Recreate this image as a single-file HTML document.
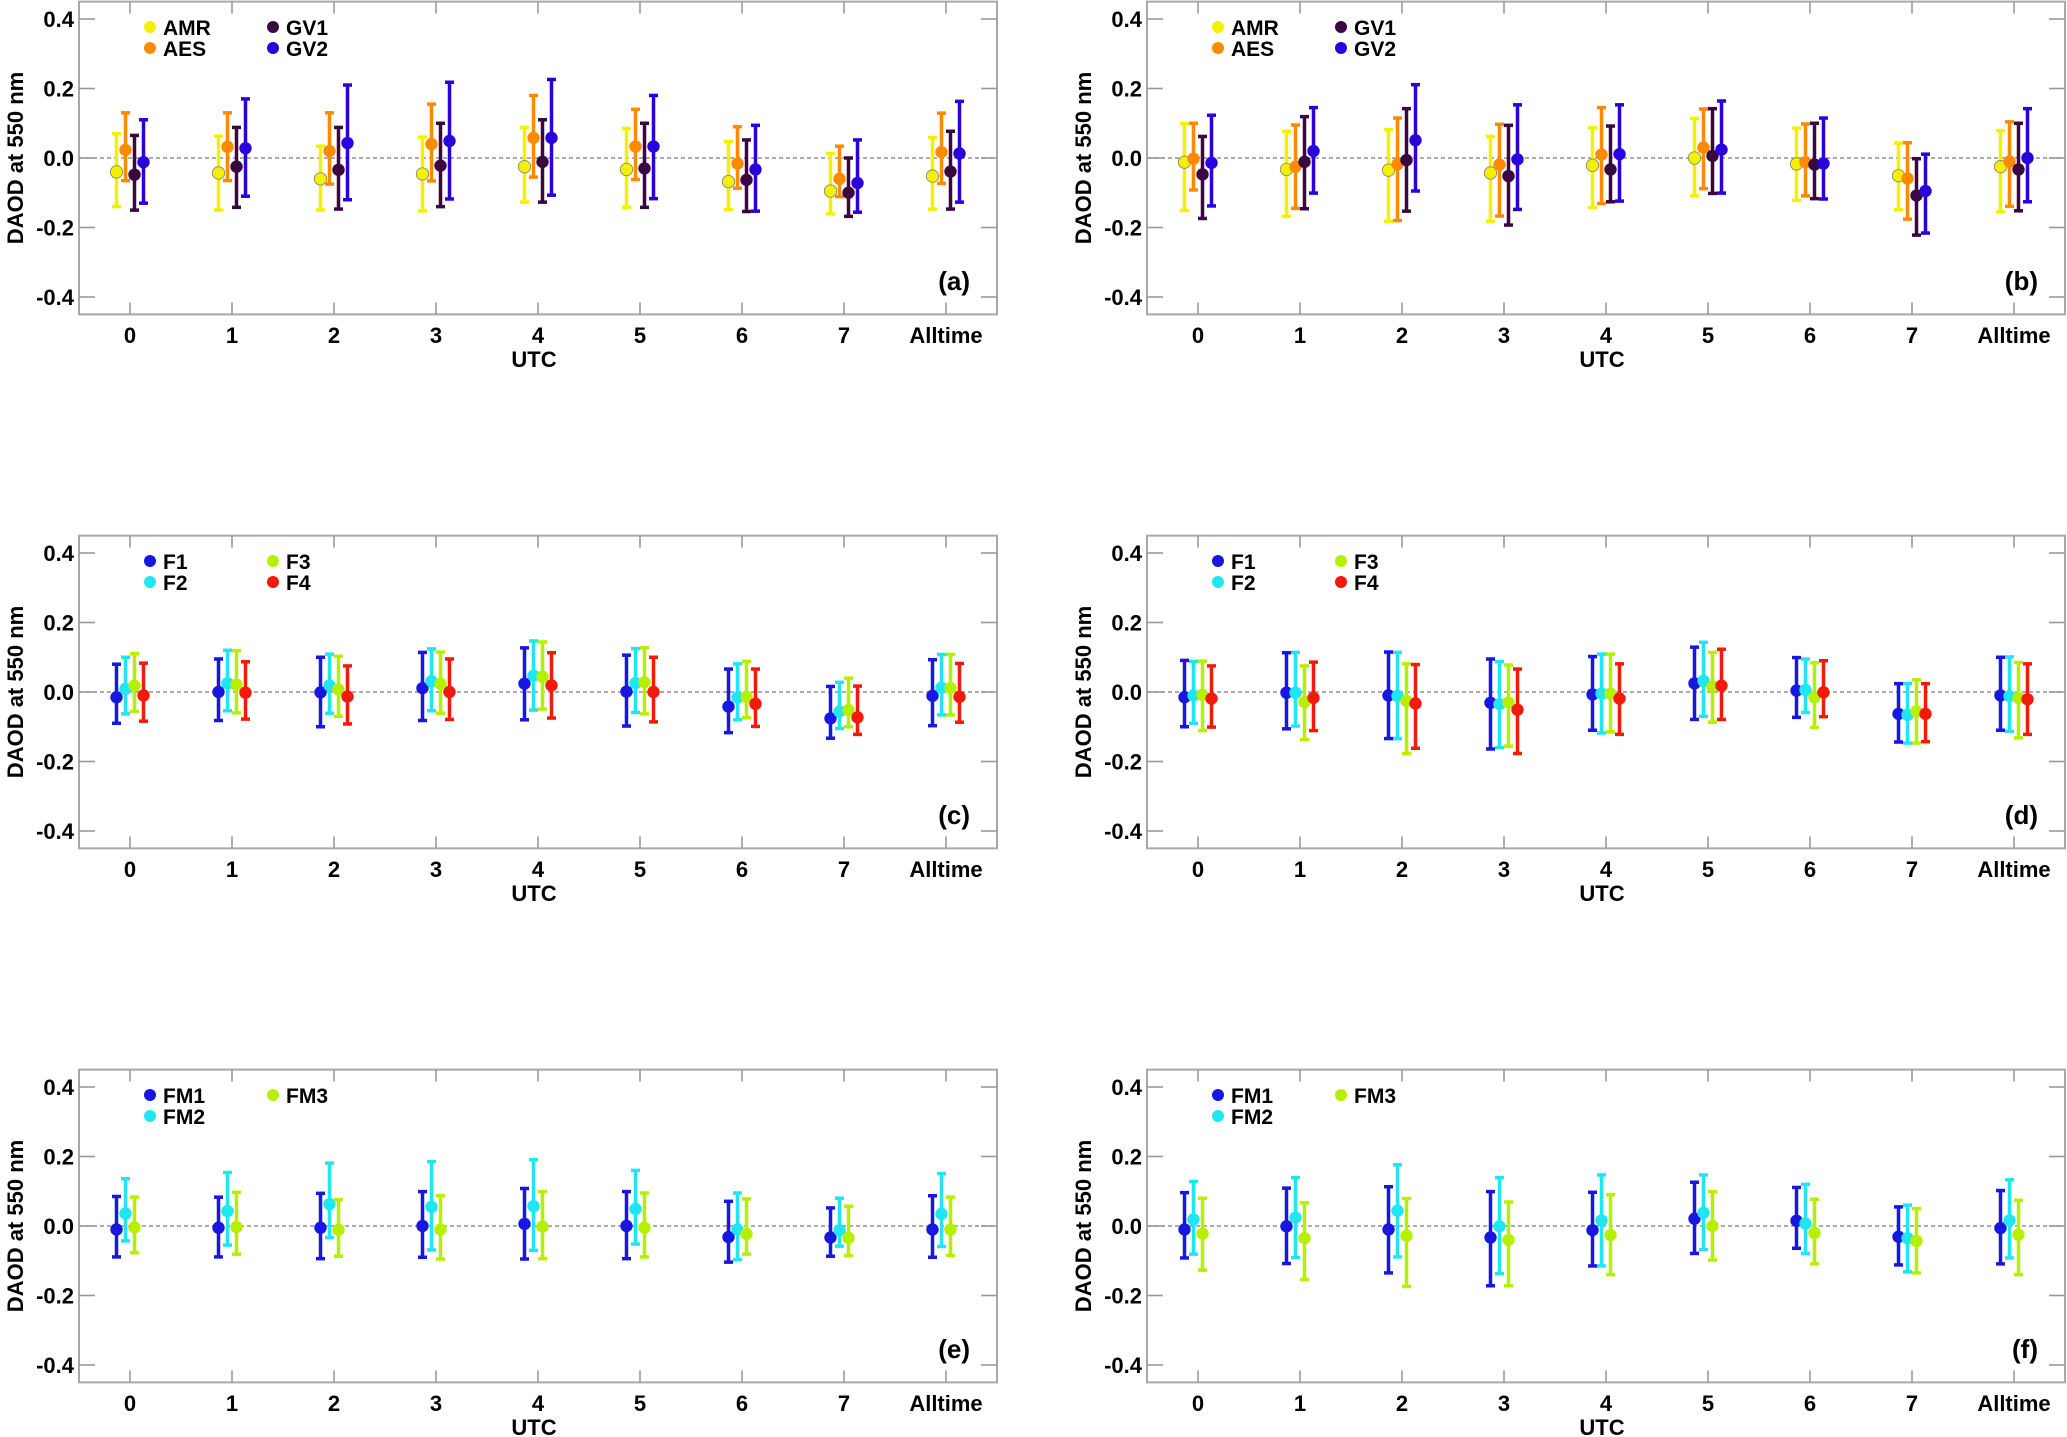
<!DOCTYPE html>
<html><head><meta charset="utf-8"><style>
html,body{margin:0;padding:0;background:#fff;}
svg{display:block;font-family:"Liberation Sans",Arial,sans-serif;font-weight:bold;}
</style></head><body>
<svg id="chart" width="2067" height="1437" viewBox="0 0 2067 1437" xmlns="http://www.w3.org/2000/svg"></svg>
<script>
const CATEGORIES = ["0","1","2","3","4","5","6","7","Alltime"];
const Y_TICKS = [-0.4,-0.2,0.0,0.2,0.4];
const Y_TICK_LABELS = ["-0.4","-0.2","0.0","0.2","0.4"];

// Panel (a)
const A_AMR_MEAN=[-0.04,-0.043,-0.06,-0.046,-0.025,-0.033,-0.068,-0.095,-0.052];
const A_AMR_HI=[0.07,0.063,0.034,0.06,0.088,0.085,0.047,0.013,0.059];
const A_AMR_LO=[-0.14,-0.15,-0.15,-0.152,-0.127,-0.142,-0.148,-0.161,-0.147];
const A_AES_MEAN=[0.023,0.032,0.02,0.04,0.058,0.033,-0.016,-0.06,0.017];
const A_AES_HI=[0.13,0.13,0.13,0.155,0.18,0.14,0.09,0.034,0.129];
const A_AES_LO=[-0.065,-0.065,-0.075,-0.066,-0.055,-0.062,-0.087,-0.111,-0.073];
const A_GV1_MEAN=[-0.048,-0.025,-0.034,-0.022,-0.011,-0.03,-0.063,-0.1,-0.039];
const A_GV1_HI=[0.065,0.088,0.088,0.1,0.11,0.1,0.052,0.0,0.077];
const A_GV1_LO=[-0.15,-0.142,-0.147,-0.14,-0.127,-0.142,-0.154,-0.168,-0.147];
const A_GV2_MEAN=[-0.012,0.028,0.043,0.049,0.058,0.033,-0.033,-0.072,0.013];
const A_GV2_HI=[0.11,0.17,0.21,0.218,0.226,0.18,0.094,0.052,0.163];
const A_GV2_LO=[-0.13,-0.11,-0.12,-0.118,-0.107,-0.117,-0.153,-0.156,-0.127];

// Panel (b)
const B_AMR_MEAN=[-0.012,-0.033,-0.035,-0.043,-0.021,0.0,-0.017,-0.051,-0.025];
const B_AMR_HI=[0.099,0.077,0.082,0.062,0.087,0.114,0.086,0.043,0.079];
const B_AMR_LO=[-0.151,-0.168,-0.182,-0.182,-0.143,-0.109,-0.122,-0.149,-0.155];
const B_AES_MEAN=[-0.002,-0.025,-0.018,-0.019,0.01,0.03,-0.012,-0.059,-0.01];
const B_AES_HI=[0.1,0.095,0.115,0.097,0.145,0.141,0.098,0.044,0.104];
const B_AES_LO=[-0.092,-0.145,-0.18,-0.167,-0.131,-0.088,-0.109,-0.176,-0.139];
const B_GV1_MEAN=[-0.047,-0.011,-0.006,-0.052,-0.033,0.006,-0.019,-0.108,-0.033];
const B_GV1_HI=[0.062,0.119,0.142,0.094,0.092,0.142,0.1,-0.002,0.1];
const B_GV1_LO=[-0.174,-0.146,-0.153,-0.193,-0.126,-0.102,-0.117,-0.222,-0.152];
const B_GV2_MEAN=[-0.014,0.02,0.051,-0.004,0.011,0.024,-0.016,-0.095,0.0];
const B_GV2_HI=[0.123,0.145,0.211,0.153,0.153,0.164,0.115,0.011,0.142];
const B_GV2_LO=[-0.138,-0.101,-0.095,-0.148,-0.124,-0.101,-0.118,-0.216,-0.126];

// Panel (c)
const C_F1_MEAN=[-0.015,0.0,-0.001,0.011,0.024,0.001,-0.042,-0.076,-0.011];
const C_F1_HI=[0.08,0.095,0.1,0.114,0.127,0.106,0.066,0.016,0.093];
const C_F1_LO=[-0.09,-0.082,-0.1,-0.082,-0.08,-0.098,-0.117,-0.133,-0.097];
const C_F2_MEAN=[0.009,0.025,0.019,0.031,0.047,0.026,-0.016,-0.056,0.012];
const C_F2_HI=[0.1,0.12,0.109,0.124,0.147,0.125,0.081,0.028,0.108];
const C_F2_LO=[-0.063,-0.054,-0.061,-0.054,-0.052,-0.059,-0.08,-0.105,-0.066];
const C_F3_MEAN=[0.018,0.021,0.007,0.023,0.044,0.028,-0.014,-0.052,0.011];
const C_F3_HI=[0.11,0.119,0.103,0.115,0.144,0.127,0.088,0.04,0.108];
const C_F3_LO=[-0.056,-0.06,-0.07,-0.061,-0.049,-0.063,-0.074,-0.1,-0.066];
const C_F4_MEAN=[-0.01,-0.002,-0.013,0.0,0.019,0.0,-0.034,-0.073,-0.014];
const C_F4_HI=[0.083,0.087,0.075,0.095,0.113,0.1,0.066,0.017,0.082];
const C_F4_LO=[-0.084,-0.078,-0.092,-0.079,-0.075,-0.086,-0.099,-0.122,-0.087];

// Panel (d)
const D_F1_MEAN=[-0.015,-0.002,-0.01,-0.031,-0.007,0.025,0.004,-0.063,-0.01];
const D_F1_HI=[0.091,0.113,0.115,0.095,0.102,0.129,0.099,0.024,0.1];
const D_F1_LO=[-0.1,-0.106,-0.134,-0.164,-0.11,-0.079,-0.073,-0.144,-0.11];
const D_F2_MEAN=[-0.01,-0.002,-0.011,-0.035,-0.005,0.032,0.006,-0.066,-0.012];
const D_F2_HI=[0.088,0.114,0.114,0.087,0.109,0.143,0.095,0.024,0.101];
const D_F2_LO=[-0.09,-0.098,-0.134,-0.16,-0.118,-0.07,-0.059,-0.147,-0.113];
const D_F3_MEAN=[-0.008,-0.029,-0.026,-0.03,-0.005,0.016,-0.015,-0.056,-0.017];
const D_F3_HI=[0.089,0.075,0.081,0.078,0.109,0.114,0.084,0.035,0.085];
const D_F3_LO=[-0.111,-0.137,-0.177,-0.156,-0.115,-0.087,-0.102,-0.147,-0.132];
const D_F4_MEAN=[-0.019,-0.017,-0.033,-0.051,-0.019,0.018,-0.001,-0.063,-0.021];
const D_F4_HI=[0.075,0.086,0.079,0.066,0.081,0.123,0.09,0.024,0.081];
const D_F4_LO=[-0.101,-0.111,-0.162,-0.177,-0.122,-0.079,-0.071,-0.143,-0.122];

// Panel (e)
const E_FM1_MEAN=[-0.01,-0.005,-0.005,0.0,0.006,0.0,-0.032,-0.033,-0.01];
const E_FM1_HI=[0.085,0.083,0.094,0.099,0.108,0.099,0.071,0.052,0.087];
const E_FM1_LO=[-0.089,-0.089,-0.094,-0.09,-0.095,-0.094,-0.104,-0.087,-0.09];
const E_FM2_MEAN=[0.036,0.043,0.063,0.055,0.057,0.049,-0.01,-0.012,0.035];
const E_FM2_HI=[0.136,0.154,0.181,0.185,0.191,0.16,0.095,0.08,0.151];
const E_FM2_LO=[-0.043,-0.055,-0.033,-0.069,-0.07,-0.052,-0.097,-0.058,-0.059];
const E_FM3_MEAN=[-0.004,-0.003,-0.011,-0.01,-0.002,-0.005,-0.023,-0.034,-0.01];
const E_FM3_HI=[0.083,0.097,0.076,0.087,0.099,0.095,0.078,0.057,0.083];
const E_FM3_LO=[-0.077,-0.081,-0.087,-0.095,-0.094,-0.089,-0.081,-0.085,-0.085];

// Panel (f)
const F_FM1_MEAN=[-0.01,-0.001,-0.01,-0.033,-0.012,0.021,0.015,-0.031,-0.006];
const F_FM1_HI=[0.096,0.109,0.113,0.099,0.097,0.126,0.111,0.055,0.102];
const F_FM1_LO=[-0.092,-0.108,-0.135,-0.172,-0.115,-0.079,-0.064,-0.112,-0.109];
const F_FM2_MEAN=[0.019,0.024,0.044,-0.001,0.016,0.038,0.007,-0.035,0.016];
const F_FM2_HI=[0.128,0.139,0.176,0.139,0.147,0.147,0.12,0.06,0.133];
const F_FM2_LO=[-0.081,-0.091,-0.089,-0.137,-0.115,-0.068,-0.079,-0.132,-0.092];
const F_FM3_MEAN=[-0.022,-0.035,-0.028,-0.04,-0.026,0.0,-0.02,-0.043,-0.025];
const F_FM3_HI=[0.08,0.067,0.079,0.069,0.09,0.099,0.077,0.05,0.074];
const F_FM3_LO=[-0.127,-0.154,-0.174,-0.172,-0.14,-0.098,-0.109,-0.135,-0.14];

const NS="http://www.w3.org/2000/svg";
const svg=document.getElementById('chart');
function mk(tag,attrs,parent){const e=document.createElementNS(NS,tag);for(const k in attrs)e.setAttribute(k,attrs[k]);(parent||svg).appendChild(e);return e;}

const C_AMR="#f2f200",C_AES="#ff8a00",C_GV1="#3a0840",C_GV2="#2a00dd";
const C_F1="#1717e0",C_F2="#1fe6f2",C_F3="#b5f000",C_F4="#f21a0a";

const panels=[
 {id:"a",L:79,Z:158,series:[["AMR",C_AMR,A_AMR_MEAN,A_AMR_LO,A_AMR_HI],["AES",C_AES,A_AES_MEAN,A_AES_LO,A_AES_HI],["GV1",C_GV1,A_GV1_MEAN,A_GV1_LO,A_GV1_HI],["GV2",C_GV2,A_GV2_MEAN,A_GV2_LO,A_GV2_HI]]},
 {id:"b",L:1147,Z:158,series:[["AMR",C_AMR,B_AMR_MEAN,B_AMR_LO,B_AMR_HI],["AES",C_AES,B_AES_MEAN,B_AES_LO,B_AES_HI],["GV1",C_GV1,B_GV1_MEAN,B_GV1_LO,B_GV1_HI],["GV2",C_GV2,B_GV2_MEAN,B_GV2_LO,B_GV2_HI]]},
 {id:"c",L:79,Z:692,series:[["F1",C_F1,C_F1_MEAN,C_F1_LO,C_F1_HI],["F2",C_F2,C_F2_MEAN,C_F2_LO,C_F2_HI],["F3",C_F3,C_F3_MEAN,C_F3_LO,C_F3_HI],["F4",C_F4,C_F4_MEAN,C_F4_LO,C_F4_HI]]},
 {id:"d",L:1147,Z:692,series:[["F1",C_F1,D_F1_MEAN,D_F1_LO,D_F1_HI],["F2",C_F2,D_F2_MEAN,D_F2_LO,D_F2_HI],["F3",C_F3,D_F3_MEAN,D_F3_LO,D_F3_HI],["F4",C_F4,D_F4_MEAN,D_F4_LO,D_F4_HI]]},
 {id:"e",L:79,Z:1226,series:[["FM1",C_F1,E_FM1_MEAN,E_FM1_LO,E_FM1_HI],["FM2",C_F2,E_FM2_MEAN,E_FM2_LO,E_FM2_HI],["FM3",C_F3,E_FM3_MEAN,E_FM3_LO,E_FM3_HI]]},
 {id:"f",L:1147,Z:1226,series:[["FM1",C_F1,F_FM1_MEAN,F_FM1_LO,F_FM1_HI],["FM2",C_F2,F_FM2_MEAN,F_FM2_LO,F_FM2_HI],["FM3",C_F3,F_FM3_MEAN,F_FM3_LO,F_FM3_HI]]}
];
const W=918, SCALE=347.5, OFFS=[-13.5,-4.5,4.5,13.5];

panels.forEach(p=>{
  const g=mk('g',{});
  
  
  const top=p.Z-0.45*SCALE, bot=p.Z+0.45*SCALE, R=p.L+W;
  const yS=v=>p.Z-v*SCALE;
  const xS=i=>p.L+51+102*i;
  const frame=mk('rect',{x:p.L,y:top,width:W,height:bot-top,fill:'none',stroke:'#a8a8a8','stroke-width':2},g);
  
  
  const zl=mk('line',{x1:p.L,x2:R,y1:yS(0),y2:yS(0),stroke:'#909090','stroke-width':1.6,'stroke-dasharray':'4,3'},g);
  
  
  Y_TICKS.forEach((v,k)=>{
    mk('line',{x1:p.L,x2:p.L+16,y1:yS(v),y2:yS(v),stroke:'#999','stroke-width':1.6},g);
    mk('line',{x1:R-16,x2:R,y1:yS(v),y2:yS(v),stroke:'#999','stroke-width':1.6},g);
    const t=mk('text',{x:p.L-5,y:yS(v)+8,'text-anchor':'end','font-size':22,fill:'#000'},g);
    t.textContent=Y_TICK_LABELS[k];
    
    
  });
  CATEGORIES.forEach((c,i)=>{
    mk('line',{x1:xS(i),x2:xS(i),y1:top,y2:top+12,stroke:'#999','stroke-width':1.6},g);
    mk('line',{x1:xS(i),x2:xS(i),y1:bot-12,y2:bot,stroke:'#999','stroke-width':1.6},g);
    const t=mk('text',{x:xS(i),y:p.Z+185,'text-anchor':'middle','font-size':22,fill:'#000'},g);
    t.textContent=c;
    
    
  });
  const xt=mk('text',{x:p.L+W/2-4,y:p.Z+209,'text-anchor':'middle','font-size':22,fill:'#000'},g);
  xt.textContent='UTC';
  
  
  const yt=mk('text',{x:0,y:0,'text-anchor':'middle','font-size':22,fill:'#000',transform:`translate(${p.L-56},${p.Z}) rotate(-90)`},g);
  yt.textContent='DAOD at 550 nm';
  
  
  const pl=mk('text',{x:R-27,y:p.Z+132,'text-anchor':'end','font-size':26,fill:'#000'},g);
  pl.textContent='('+p.id+')';
  
  
  p.series.forEach((s,si)=>{
    const [name,col,mean,lo,hi]=s;
    const sg=mk('g',{},g);
    
    
    mean.forEach((m,i)=>{
      const x=xS(i)+OFFS[si];
      const yl=yS(lo[i]), yh=yS(hi[i]);
      const eb=mk('line',{x1:x,x2:x,y1:yh,y2:yl,stroke:col,'stroke-width':3.5},sg);
      
      
      mk('line',{x1:x-4.5,x2:x+4.5,y1:yh,y2:yh,stroke:col,'stroke-width':3.5},sg);
      mk('line',{x1:x-4.5,x2:x+4.5,y1:yl,y2:yl,stroke:col,'stroke-width':3.5},sg);
      const pt=mk('circle',{cx:x,cy:yS(m),r:6.2,fill:col,stroke:(col===C_AMR?'#8a8a70':'none'),'stroke-width':0.9},sg);
      
      
    });
    const lx=p.L+71+(si>=2?123:0), ly=p.Z-131+(si%2)*21;
    const lg=mk('g',{},g);
    
    
    mk('circle',{cx:lx,cy:ly,r:6,fill:col},lg);
    const lt=mk('text',{x:lx+13,y:ly+8,'font-size':21,fill:'#000'},lg);
    lt.textContent=name;
  });
});
</script>
</body></html>
